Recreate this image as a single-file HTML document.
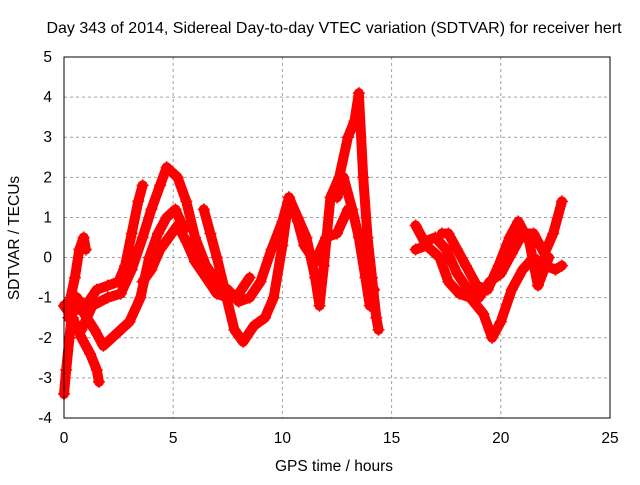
<!DOCTYPE html>
<html><head><meta charset="utf-8"><style>
body{margin:0;background:#fff}
svg text{font-family:"Liberation Sans",sans-serif;font-size:15.5px;fill:#000}
</style></head><body>
<svg width="640" height="480">
<rect width="640" height="480" fill="#fff"/>
<text x="334" y="33" text-anchor="middle" style="font-size:16px">Day 343 of 2014, Sidereal Day-to-day VTEC variation (SDTVAR) for receiver hert</text>
<g id="grid"></g>
<g id="marks"></g>
<rect x="64" y="57" width="546" height="361" fill="none" stroke="#000" stroke-width="1"/>
<text x="334" y="471" text-anchor="middle">GPS time / hours</text>
<text transform="translate(19,238) rotate(-90)" text-anchor="middle">SDTVAR / TECUs</text>
</svg>
<script>
const xTicks=[0,5,10,15,20,25];
const yTicks=[-4,-3,-2,-1,0,1,2,3,4,5];
const trackA=[[0.3,-1.0],[0.5,-0.5],[0.7,0.2],[0.9,0.5],[1.0,0.2]];
const trackB=[[0,-1.2],[0.4,-1.5],[0.8,-2.0],[1.2,-2.4],[1.5,-2.8],[1.6,-3.1]];
const trackC=[[0,-3.4],[0.1,-2.8],[0.25,-2.0],[0.4,-1.2],[0.6,-1.0]];
const trackD=[[0,-1.2],[0.5,-1.0],[1,-1.2],[1.5,-0.8],[2,-0.7],[2.5,-0.6],[2.8,-0.2],[3.1,0.6],[3.4,1.4],[3.6,1.8]];
const trackE=[[0.2,-1.5],[0.8,-1.8],[1.3,-1.2],[2,-1.0],[2.6,-0.9],[3.1,-0.3],[3.6,0.5],[4,1.2],[4.4,1.8],[4.7,2.25],[5.2,2.0],[5.6,1.4],[6,0.5],[6.5,-0.2],[7,-0.6],[7.5,-0.8],[8,-1.1],[8.5,-1.0],[9,-0.6],[9.5,0.2],[10,0.9],[10.3,1.5],[10.7,0.9],[11,0.3],[11.5,-0.1],[12,0.5],[12.5,0.6],[13,1.2]];
const trackF=[[0.3,-1.3],[0.8,-1.3],[1.4,-1.8],[1.8,-2.2],[2.4,-1.9],[3,-1.6],[3.5,-1.0],[3.9,0.0],[4.3,0.6],[4.7,1.0],[5.1,1.2],[5.5,0.7]];
const trackG=[[3.6,-0.6],[4,-0.3],[4.4,0.2],[4.8,0.5],[5.2,0.8],[5.6,0.4],[6,-0.1],[6.5,-0.5],[7,-0.9],[7.5,-1.0],[8,-0.9],[8.5,-0.5]];
const trackH=[[6.4,1.2],[6.7,0.6],[7,0.0],[7.4,-0.9],[7.8,-1.8],[8.2,-2.1],[8.7,-1.7],[9.2,-1.5],[9.6,-1.0],[10,0.3],[10.3,1.5],[10.7,1.0],[11.1,0.5],[11.5,-0.5],[11.7,-1.2],[11.9,-0.2],[12.2,1.5],[12.6,2.0],[13,3.0],[13.3,3.4],[13.5,4.1],[13.7,2.0],[13.9,0.5],[14.1,-0.5],[14.3,-1.5],[14.4,-1.8]];
const trackI=[[12.5,1.5],[12.8,2.0],[13.2,1.2],[13.5,0.5],[13.8,-0.5],[14,-1.2],[14.2,-0.8]];
const trackJ=[[16.1,0.8],[16.5,0.4],[17,0.5],[17.5,0.2],[18,-0.4],[18.5,-0.8],[19,-1.0],[19.5,-0.6],[20,-0.4],[20.5,0.1],[21,0.6],[21.5,0.6],[22,0.1],[22.4,0.6],[22.8,1.4]];
const trackK=[[16.1,0.2],[16.6,0.3],[17.2,0.0],[17.6,-0.6],[18.1,-0.9],[18.6,-1.0],[19.2,-1.4],[19.6,-2.0],[20,-1.6],[20.5,-0.8],[21,-0.3],[21.5,0.0],[22,-0.2],[22.5,-0.3],[22.8,-0.2]];
const trackL=[[17.3,0.6],[17.6,0.6],[18,0.2],[18.4,-0.2],[18.9,-0.7],[19.4,-0.8],[19.9,-0.2],[20.4,0.5],[20.8,0.9],[21.3,0.4],[21.7,-0.7],[22.2,0.0]];
const tracks=[trackA,trackB,trackC,trackD,trackE,trackF,trackG,trackH,trackI,trackJ,trackK,trackL];
const X0=64,X1=610,Y0=418,Y1=57;
const xs=t=>X0+(t-0)/(25-0)*(X1-X0);
const ys=v=>Y0-(v+4)/(5+4)*(Y0-Y1);
const NS='http://www.w3.org/2000/svg';
const grid=document.getElementById('grid'),marks=document.getElementById('marks');
function mk(tag,at,parent){const e=document.createElementNS(NS,tag);for(const k in at)e.setAttribute(k,at[k]);parent.appendChild(e);return e;}
xTicks.forEach(t=>{const x=xs(t);
 const l=mk('line',{x1:x,x2:x,y1:Y1,y2:Y0,stroke:'#a0a0a0','stroke-dasharray':'3,3'},grid);
 
 
 const tx=mk('text',{x:x,y:443,'text-anchor':'middle'},grid);tx.textContent=t;
 
 
});
yTicks.forEach(v=>{const y=ys(v);
 const l=mk('line',{x1:X0,x2:X1,y1:y,y2:y,stroke:'#a0a0a0','stroke-dasharray':'3,3'},grid);
 
 
 const tx=mk('text',{x:52,y:y+5,'text-anchor':'end'},grid);tx.textContent=v;
 
 
});
tracks.forEach((tr,i)=>{
 const p=mk('polyline',{points:tr.map(d=>xs(d[0])+','+ys(d[1])).join(' '),fill:'none',stroke:'#f00','stroke-width':10,'stroke-linejoin':'round','stroke-linecap':'round'},marks);
 
 
 tr.forEach(d=>{const x=xs(d[0]),y=ys(d[1]);
  const m=mk('path',{d:`M${x-6},${y}H${x+6}M${x},${y-6}V${y+6}`,stroke:'#f00','stroke-width':1.5},marks);
  
  
 });
});
</script>
</body></html>
